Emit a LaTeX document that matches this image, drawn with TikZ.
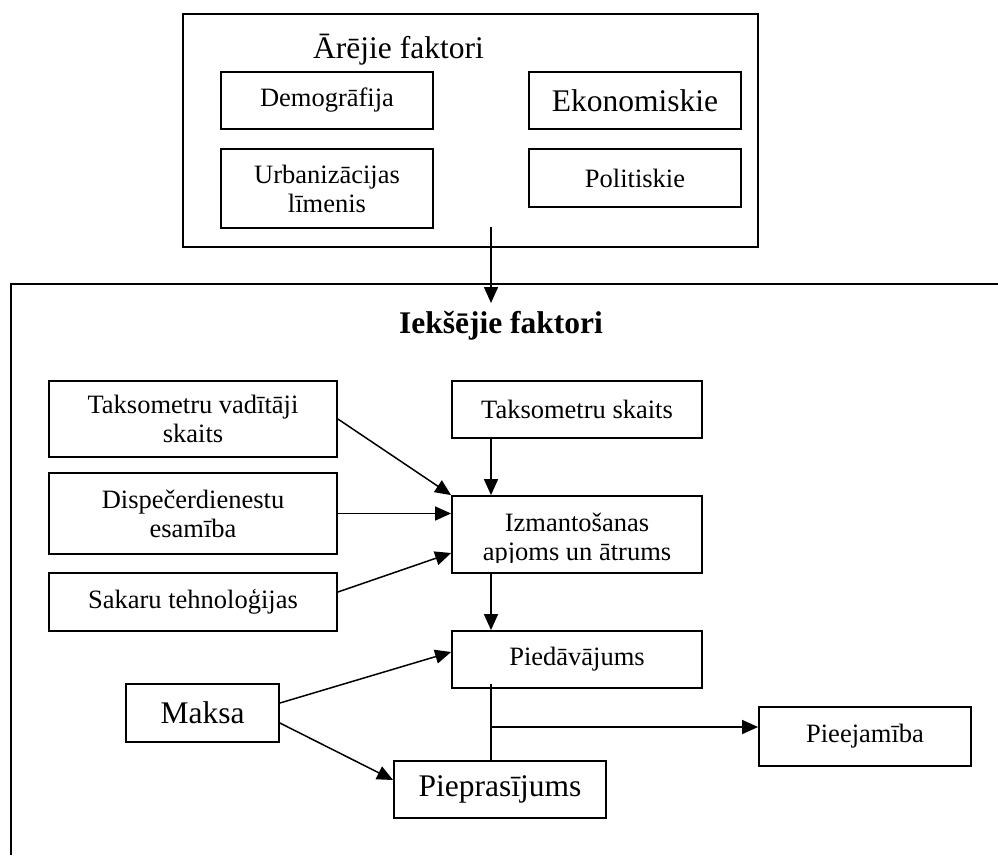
\documentclass[tikz,border=0pt]{standalone}
\usepackage{fontspec}
\setmainfont{Liberation Serif}
\usetikzlibrary{arrows.meta}
\newcommand\fsN{\fontsize{26.5}{29}\selectfont}
\newcommand\fsL{\fontsize{31.5}{35}\selectfont}
\begin{document}
\begin{tikzpicture}[x=1pt,y=-1pt,
  box/.style={draw, line width=1.8pt, inner sep=0pt, align=center, font=\fsN},
  bigbox/.style={box, font=\fsL},
  txt/.style={inner sep=0pt, align=center, font=\fsN},
  conn/.style={line width=1.5pt, -{Triangle[length=16pt,width=14pt]}},
  plain/.style={line width=1.5pt},
  frame/.style={line width=1.8pt}
]
\useasboundingbox (0,0) rectangle (998,855);

% external factors
\node[box, minimum width=575, minimum height=233] (ext) at (470.5,130.5) {};
\node[inner sep=0pt, font=\fsL, anchor=base west] (extt) at (313,58) {Ārējie faktori};
\node[box, minimum width=212, minimum height=57] (demo) at (327,100.5) {Demogrāfija};
\node[box, minimum width=212, minimum height=79] (urb) at (327,188.5) {Urbanizācijas\\līmenis};
\node[bigbox, minimum width=212, minimum height=57] (eko) at (635,100.5) {Ekonomiskie};
\node[box, minimum width=212, minimum height=58] (pol) at (635,178) {Politiskie};

% internal factors frame (open to the right and bottom)
\coordinate (frtl) at (11,284);
\coordinate (frtr) at (998,284);
\coordinate (frbl) at (11,855);
\draw[frame] (frtr) -- (frtl) -- (frbl);
\node[inner sep=0pt, font=\fsL\bfseries, anchor=base] (intt) at (501,333) {Iekšējie faktori};

\coordinate (a0) at (491,227);
\coordinate (a1) at (491,303);
\draw[conn] (a0) -- (a1);

% boxes
\node[box, minimum width=288, minimum height=76] (tvs) at (193,419) {Taksometru vadītāji\\skaits};
\node[box, minimum width=288, minimum height=81] (disp) at (193,513.5) {Dispečerdienestu\\esamība};
\node[box, minimum width=288, minimum height=58] (sak) at (193,602) {Sakaru tehnoloģijas};
\node[box, minimum width=250, minimum height=57] (tsk) at (577,409.5) {Taksometru skaits};
\node[box, minimum width=250, minimum height=77] (izm) at (577,534.5) {};
\begin{scope}
  \clip (izm.north west) rectangle ([yshift=11pt]izm.south east);
  \node[txt] (izmt) at (577,539.6) {Izmantošanas\\apjoms un ātrums};
\end{scope}
\node[box, minimum width=250, minimum height=57] (pied) at (577,659.5) {Piedāvājums};
\node[bigbox, minimum width=153, minimum height=58] (maksa) at (202.5,713) {Maksa};
\node[bigbox, minimum width=212, minimum height=57] (piepr) at (500,789.5) {Pieprasījums};
\node[box, minimum width=212, minimum height=59] (pieej) at (865,736.5) {Pieejamība};

% connectors
\draw[conn] (tvs.east) -- (izm.north west);
\draw[conn] (disp.east) -- (disp.east -| izm.west);
\draw[conn] ([yshift=10pt]sak.east) -- ([yshift=-18.5pt]izm.west);
\draw[conn] ([xshift=-86pt]tsk.south) -- ([xshift=-86pt]izm.north);
\draw[conn] ([xshift=-86pt]izm.south) -- ([xshift=-86pt]pied.north);
\draw[conn] ([yshift=10pt]maksa.east) -- ([yshift=7.5pt]pied.west);
\draw[conn] ([yshift=-10pt]maksa.east) -- ([yshift=9.5pt]piepr.west);
\draw[plain] ([xshift=-86pt,yshift=5pt]pied.south) -- ([xshift=-9pt]piepr.north);
\coordinate (pj) at ([yshift=9.5pt]pieej.west);
\coordinate (jn) at ([xshift=-86pt]pied.south |- pj);
\draw[conn] (jn) -- (pj);
\end{tikzpicture}
\end{document}
